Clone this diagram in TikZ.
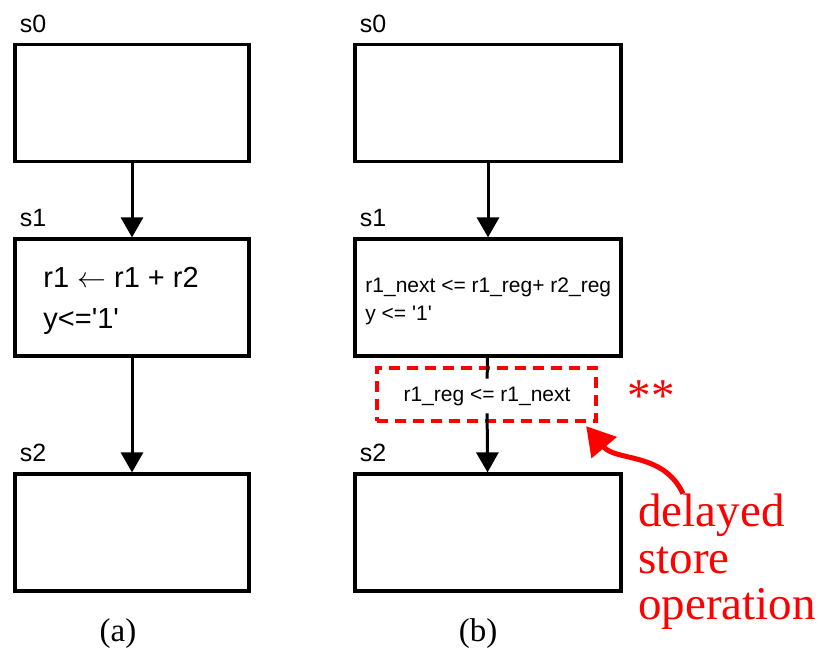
\documentclass[tikz,border=0pt]{standalone}
\usepackage{fontspec}
\setmainfont{Liberation Serif}
\setsansfont{Liberation Sans}
\usetikzlibrary{arrows.meta}

\begin{document}
\begin{tikzpicture}[x=0.5pt,y=-0.5pt,font=\sffamily,
  stbox/.style={draw,line width=1.6pt,minimum height=58.5pt,inner sep=0pt},
  stname/.style={anchor=base west,inner sep=0pt,font=\sffamily\fontsize{12.5}{13}\selectfont},
  flow/.style={line width=1.5pt,-{Triangle[width=11pt,length=10pt]}},
  acts/.style={anchor=north west,inner sep=0pt,align=left},
  note/.style={text=red,font=\rmfamily\fontsize{23.5}{23.3}\selectfont}]
\useasboundingbox (0,0) rectangle (824,652);
\node[stbox,minimum width=117pt] (s0a) at (132,103) {};
\node[stbox,minimum width=117pt] (s1a) at (132,297.5) {};
\node[stbox,minimum width=117pt] (s2a) at (132,532.5) {};
\node[stbox,minimum width=133pt] (s0b) at (488,103) {};
\node[stbox,minimum width=133pt] (s1b) at (488,297.5) {};
\node[stbox,minimum width=133pt] (s2b) at (488,532.5) {};
\node[stname] (n0a) at ([xshift=3pt,yshift=5.3pt]s0a.north west) {s0};
\node[stname] (n1a) at ([xshift=3pt,yshift=5.3pt]s1a.north west) {s1};
\node[stname] (n2a) at ([xshift=3pt,yshift=5.3pt]s2a.north west) {s2};
\node[stname] (n0b) at ([xshift=3pt,yshift=5.3pt]s0b.north west) {s0};
\node[stname] (n1b) at ([xshift=3pt,yshift=5.3pt]s1b.north west) {s1};
\node[stname] (n2b) at ([xshift=3pt,yshift=5.3pt]s2b.north west) {s2};
\node[acts,font=\sffamily\fontsize{14.5}{20.5}\selectfont] (acta) at (43,267)
  {r1 $\leftarrow$ r1 + r2\\y<=\textquotesingle 1\textquotesingle};
\node[acts,font=\sffamily\fontsize{10.5}{14}\selectfont] (actb) at (365,277)
  {r1\_next <= r1\_reg+ r2\_reg\\y <= \textquotesingle 1\textquotesingle};
\node[draw=red,line width=2.2pt,dash pattern=on 5.5pt off 3.5pt,minimum width=109.5pt,
  minimum height=26.5pt,inner sep=0pt] (dbox) at (486.5,394.5) {};
\node[font=\sffamily\fontsize{10.5}{12}\selectfont,inner xsep=2pt,inner ysep=3.75pt]
  (regtxt) at (487,396) {r1\_reg <= r1\_next};
\draw[flow] (s0a) -- (s1a);
\draw[flow] (s1a) -- (s2a);
\draw[flow] (s0b) -- (s1b);
\draw[line width=1.5pt] (s1b) -- (regtxt);
\draw[flow] (regtxt) -- (s2b);
\node[note,anchor=base] (stars) at (651,411) {**};
\node[note,align=left,anchor=west,inner sep=0pt] (delay) at (638,562)
  {delayed\\store\\operation};
\draw[red,line width=2.5pt,-{Triangle[width=16pt,length=14pt]}]
  ([xshift=22.5pt]delay.north west) to[out=115,in=-50] ([xshift=-6pt,yshift=-1.5pt]dbox.south east);
\node[font=\rmfamily\fontsize{16.5}{16.5}\selectfont] (capa) at (118,634) {(a)};
\node[font=\rmfamily\fontsize{16.5}{16.5}\selectfont] (capb) at (478,634) {(b)};
\end{tikzpicture}
\end{document}
